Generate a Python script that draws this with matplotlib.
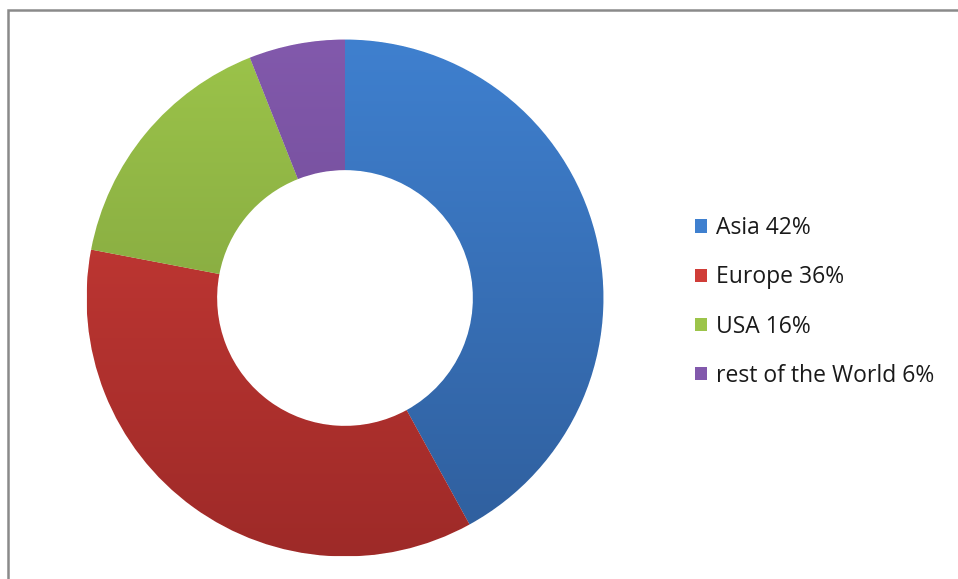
import numpy as np
import matplotlib
matplotlib.use("Agg")
import matplotlib.pyplot as plt
from matplotlib.colors import LinearSegmentedColormap
from matplotlib.patches import Rectangle

# Data
regions = ["Asia", "Europe", "USA", "rest of the World"]
shares = [42, 36, 16, 6]
labels = [f"{r} {s}%" for r, s in zip(regions, shares)]

# light (top) -> dark (bottom) per slice
top_colors = ["#3f80cf", "#d03d38", "#9cc44a", "#8259ac"]
bottom_colors = ["#2f5e9c", "#9e2a28", "#76963a", "#644287"]

fig = plt.figure(figsize=(9.58, 5.79), dpi=100)
fig.patch.set_facecolor("white")

ax = fig.add_axes([84 / 958, 20 / 579, 522 / 958, 522 / 579])
wedges, _ = ax.pie(shares, radius=1, startangle=90, counterclock=False,
                   colors=top_colors,
                   wedgeprops=dict(width=0.505, edgecolor="white", linewidth=0.6))

# vertical gradient fill for each slice
grad = np.linspace(0, 1, 256).reshape(-1, 1)
for w, c_top, c_bot in zip(wedges, top_colors, bottom_colors):
    cmap = LinearSegmentedColormap.from_list("g", [c_bot, c_top])
    im = ax.imshow(grad, extent=(-1, 1, -1, 1), origin="lower", cmap=cmap,
                   aspect="auto", zorder=w.get_zorder() + 0.1)
    im.set_clip_path(w)

ax.set_xlim(-1.01, 1.01)
ax.set_ylim(-1.01, 1.01)
ax.set_aspect("equal")
ax.axis("off")

# legend
handles = [Rectangle((0, 0), 1, 1, facecolor=c) for c in top_colors]
leg = fig.legend(handles, labels, loc="center left",
                 bbox_to_anchor=(674 / 958, 1 - 302 / 579),
                 frameon=False, handlelength=0.52, handleheight=0.52,
                 handletextpad=0.4, labelspacing=1.1,
                 prop={"family": "Open Sans", "size": 16.5})
for t in leg.get_texts():
    t.set_color("#1a1a1a")

# chart area border (left and top visible)
fig.add_artist(Rectangle((8 / 958, -0.05), 1.2, 1.05 - 10 / 579,
                         transform=fig.transFigure, fill=False,
                         edgecolor="#8a8a8a", linewidth=1.8))

fig.savefig("out.png", dpi=100)
